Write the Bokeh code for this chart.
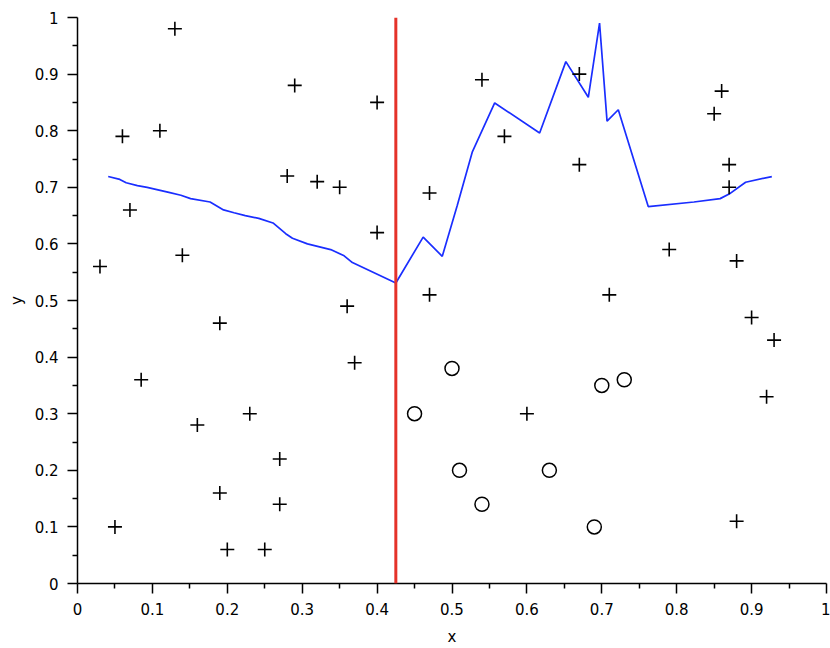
from bokeh.plotting import figure
from bokeh.models import Range1d, FixedTicker, Span
from bokeh.embed import file_html
from bokeh.resources import INLINE

# Crosses (+)
cross_x = [0.03, 0.05, 0.06, 0.07, 0.085, 0.11, 0.13, 0.14, 0.16, 0.19, 0.19, 0.20,
           0.23, 0.25, 0.27, 0.27, 0.28, 0.29, 0.32, 0.35, 0.36, 0.37, 0.40, 0.40,
           0.47, 0.47, 0.54, 0.57, 0.60, 0.67, 0.67, 0.71, 0.79, 0.85, 0.86, 0.87,
           0.87, 0.88, 0.88, 0.90, 0.92, 0.93]
cross_y = [0.56, 0.10, 0.79, 0.66, 0.36, 0.80, 0.98, 0.58, 0.28, 0.46, 0.16, 0.06,
           0.30, 0.06, 0.22, 0.14, 0.72, 0.88, 0.71, 0.70, 0.49, 0.39, 0.85, 0.62,
           0.69, 0.51, 0.89, 0.79, 0.30, 0.90, 0.74, 0.51, 0.59, 0.83, 0.87, 0.74,
           0.70, 0.57, 0.11, 0.47, 0.33, 0.43]

# Circles (o)
circ_x = [0.45, 0.50, 0.51, 0.54, 0.63, 0.69, 0.70, 0.73]
circ_y = [0.30, 0.38, 0.20, 0.14, 0.20, 0.10, 0.35, 0.36]

# Blue curve
line_x = [0.041, 0.0565, 0.065, 0.080, 0.093, 0.106, 0.122, 0.138, 0.151, 0.177,
          0.195, 0.209, 0.224, 0.242, 0.261, 0.278, 0.287, 0.307, 0.338, 0.356,
          0.367, 0.425, 0.4615, 0.487, 0.507, 0.527, 0.557, 0.617, 0.652, 0.682,
          0.697, 0.707, 0.722, 0.762, 0.823, 0.858, 0.870, 0.892, 0.927]
line_y = [0.719, 0.714, 0.708, 0.703, 0.700, 0.696, 0.691, 0.686, 0.680, 0.674,
          0.660, 0.655, 0.650, 0.645, 0.637, 0.618, 0.610, 0.600, 0.590, 0.579,
          0.567, 0.531, 0.612, 0.578, 0.668, 0.762, 0.849, 0.796, 0.922, 0.859,
          0.990, 0.817, 0.837, 0.666, 0.674, 0.680, 0.688, 0.709, 0.719]

split_x = 0.425

ticks = [0, 0.1, 0.2, 0.3, 0.4, 0.5, 0.6, 0.7, 0.8, 0.9, 1]
minor = [0.05, 0.15, 0.25, 0.35, 0.45, 0.55, 0.65, 0.75, 0.85, 0.95]

p = figure(width=830, height=648, output_backend="svg", toolbar_location=None,
           x_range=Range1d(0, 1), y_range=Range1d(0, 1),
           min_border_left=77, min_border_right=4, min_border_top=17, min_border_bottom=65)
p.outline_line_color = None
p.grid.visible = False
p.background_fill_color = "white"
p.border_fill_color = "white"

p.line(line_x, line_y, line_color="#1a2eff", line_width=1.7)
p.add_layout(Span(location=split_x, dimension="height", line_color="#e5332a", line_width=3))
p.scatter(cross_x, cross_y, marker="cross", size=14, line_color="black", line_width=1.6)
p.scatter(circ_x, circ_y, marker="circle", size=14, line_color="black", line_width=1.5,
          fill_color=None)

for ax, lab in ((p.xaxis[0], "x"), (p.yaxis[0], "y")):
    ax.ticker = FixedTicker(ticks=ticks, minor_ticks=minor)
    ax.axis_label = lab
    ax.axis_line_color = "black"
    ax.axis_line_width = 1.5
    ax.major_tick_line_color = "black"
    ax.major_tick_line_width = 1.5
    ax.minor_tick_line_color = "black"
    ax.minor_tick_line_width = 1.5
    ax.major_tick_in = 0
    ax.major_tick_out = 10
    ax.minor_tick_in = 0
    ax.minor_tick_out = 5
    ax.major_label_text_font = "DejaVu Sans"
    ax.major_label_text_font_size = "15px"
    ax.major_label_text_color = "black"
    ax.axis_label_text_font = "DejaVu Sans"
    ax.axis_label_text_font_size = "15px"
    ax.axis_label_text_font_style = "normal"
    ax.axis_label_text_color = "black"

p.xaxis.major_label_standoff = 9
p.xaxis.axis_label_standoff = 10
p.yaxis.major_label_standoff = 9
p.yaxis.axis_label_standoff = 6
p.xaxis.major_label_overrides = {0: "0", 1: "1"}
p.yaxis.major_label_overrides = {0: "0", 1: "1"}

open("out.html", "w").write(file_html(p, INLINE))
